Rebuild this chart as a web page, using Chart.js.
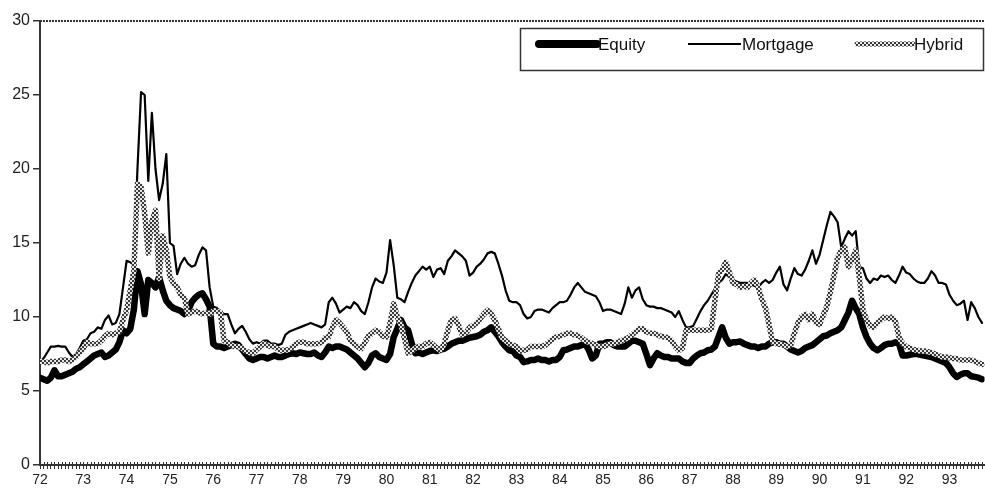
<!DOCTYPE html>
<html>
<head>
<meta charset="utf-8">
<script src="https://cdn.jsdelivr.net/npm/chart.js@4.4.1/dist/chart.umd.min.js"></script>
<style>
  html, body { margin: 0; padding: 0; background: #fff; }
  #chart { display: block; }
</style>
</head>
<body>
<canvas id="chart" width="985" height="489"></canvas>
<script>
// monthly observations, Jan 1972 .. Oct 1993
const startYear = 72;
const yTicks = [0, 5, 10, 15, 20, 25, 30];

const equity = [
  5.9, 5.8, 5.7, 5.9, 6.4, 6.0, 6.0, 6.1, 6.2, 6.3, 6.5, 6.6,
  6.8, 7.0, 7.2, 7.4, 7.5, 7.6, 7.3, 7.4, 7.6, 7.8, 8.3, 9.1,
  8.9, 9.2, 10.5, 13.1, 12.2, 10.2, 12.5, 12.3, 12.0, 12.7, 11.8, 11.1,
  10.8, 10.6, 10.5, 10.4, 10.2, 10.4, 11.0, 11.3, 11.5, 11.6, 11.2, 10.7,
  8.2, 8.0, 8.0, 7.9, 8.0, 8.1, 8.2, 8.1, 7.8, 7.5, 7.2, 7.1,
  7.2, 7.3, 7.3, 7.2, 7.3, 7.4, 7.3, 7.3, 7.4, 7.5, 7.55, 7.5,
  7.6, 7.55, 7.5, 7.5, 7.6, 7.4, 7.3, 7.6, 8.0, 7.9, 8.0, 8.0,
  7.9, 7.8, 7.6, 7.4, 7.2, 6.9, 6.6, 6.9, 7.4, 7.55, 7.3, 7.2,
  7.1, 7.5, 8.65, 9.2, 9.8, 9.3, 9.1, 8.2, 7.55, 7.6, 7.5, 7.6,
  7.7, 7.75, 7.7, 7.8, 7.85, 8.0, 8.2, 8.3, 8.4, 8.4, 8.5, 8.6,
  8.65, 8.7, 8.8, 9.0, 9.1, 9.3, 9.0, 8.7, 8.3, 8.0, 7.75, 7.7,
  7.4, 7.3, 6.95, 7.0, 7.1, 7.1, 7.2, 7.1, 7.1, 7.0, 7.1, 7.1,
  7.3, 7.75, 7.8, 7.9, 8.0, 8.0, 8.1, 8.2, 7.8, 7.2, 7.4, 8.2,
  8.2, 8.3, 8.3, 8.1, 8.0, 8.0, 8.0, 8.2, 8.4, 8.4, 8.3, 8.2,
  7.5, 6.75, 7.2, 7.55, 7.4, 7.3, 7.3, 7.2, 7.2, 7.2, 7.0, 6.9,
  6.9, 7.2, 7.4, 7.55, 7.6, 7.75, 7.8, 8.0, 8.65, 9.3, 8.6, 8.2,
  8.3, 8.3, 8.35, 8.2, 8.1, 8.0, 8.0, 7.9, 8.0, 8.0, 8.2, 8.3,
  8.3, 8.2, 8.2, 8.0, 7.8, 7.7, 7.6, 7.7, 7.9, 8.0, 8.1, 8.3,
  8.5, 8.7, 8.75, 8.9, 9.0, 9.1, 9.3, 9.8, 10.3, 11.1, 10.6, 10.2,
  9.3, 8.65, 8.2, 7.9, 7.75, 7.9, 8.1, 8.2, 8.2, 8.3, 8.2, 7.4,
  7.4, 7.45, 7.5, 7.5, 7.45, 7.4, 7.35, 7.3, 7.2, 7.1, 7.0, 6.9,
  6.6, 6.2, 5.95, 6.1, 6.2, 6.2, 6.0, 5.95, 5.9, 5.8
];

const mortgage = [
  7.0, 7.2, 7.6, 8.0, 8.0, 8.05, 8.0, 8.0, 7.6, 7.3, 7.5, 7.9,
  8.4, 8.5, 8.9, 9.0, 9.3, 9.2, 9.8, 10.1, 9.5, 9.6, 10.2, 12.0,
  13.8, 13.7, 13.5, 20.0, 25.2, 25.0, 19.2, 23.8, 20.0, 17.9, 19.0, 21.0,
  15.0, 14.8, 12.9, 13.6, 14.0, 13.6, 13.4, 13.5, 14.2, 14.7, 14.5, 12.0,
  10.7, 10.6, 10.4, 10.2, 10.2, 9.5, 8.9, 9.2, 9.4, 9.0, 8.5, 8.2,
  8.3, 8.2, 8.4, 8.4, 8.2, 8.2, 8.1, 8.2, 8.8, 9.0, 9.1, 9.2,
  9.3, 9.4, 9.5, 9.6, 9.5, 9.4, 9.3, 9.5, 11.0, 11.3, 10.9, 10.3,
  10.5, 10.7, 10.6, 11.0, 10.8, 10.4, 10.2, 11.0, 12.0, 12.6, 12.4, 12.3,
  13.0, 15.2, 13.5, 11.3, 11.2, 11.0, 11.7, 12.3, 12.8, 13.1, 13.4, 13.2,
  13.4, 12.7, 13.2, 13.3, 12.9, 13.8, 14.1, 14.5, 14.3, 14.1, 13.8, 12.8,
  13.0, 13.4, 13.6, 13.9, 14.3, 14.4, 14.3, 13.6, 12.8, 11.8, 11.1, 11.0,
  11.0, 10.8, 10.2, 9.9, 10.0, 10.4, 10.5, 10.5, 10.4, 10.3, 10.6, 10.8,
  11.0, 11.0, 11.1, 11.5, 12.0, 12.3, 12.0, 11.7, 11.6, 11.5, 11.4, 11.0,
  10.4, 10.5, 10.5, 10.4, 10.3, 10.2, 10.9, 12.0, 11.3, 11.8, 12.0, 11.2,
  10.8, 10.7, 10.7, 10.6, 10.6, 10.5, 10.4, 10.3, 10.0, 10.4, 9.8, 9.3,
  9.3, 9.4, 9.9, 10.4, 10.8, 11.1, 11.5, 11.9, 12.3, 12.5, 12.9, 12.7,
  12.5, 12.4, 12.3, 12.3, 12.3, 12.2, 12.1, 12.0, 12.3, 12.5, 12.3, 12.5,
  13.0, 13.4, 12.2, 11.8, 12.6, 13.3, 12.9, 12.8, 13.2, 13.8, 14.5, 13.6,
  14.2, 15.2, 16.2, 17.1, 16.8, 16.4, 14.7, 15.3, 15.8, 15.5, 15.8, 13.4,
  13.3, 12.6, 12.3, 12.6, 12.5, 12.8, 12.7, 12.8, 12.5, 12.3, 12.8, 13.4,
  13.0, 12.9, 12.6, 12.4, 12.3, 12.3, 12.6, 13.1, 12.8, 12.3, 12.3, 12.2,
  11.5, 11.1, 10.8, 10.9, 11.1, 9.8, 11.0, 10.6, 10.0, 9.6
];

const hybrid = [
  7.0, 7.0, 6.9, 7.0, 7.0, 7.0, 7.1, 7.1, 7.0, 7.1, 7.3, 7.6,
  7.9, 8.3, 8.2, 8.2, 8.2, 8.4, 8.7, 8.9, 8.8, 8.9, 9.0, 9.8,
  10.45, 11.8, 13.1, 19.0, 18.8, 17.0, 14.3, 16.5, 17.2, 12.6, 15.5, 14.5,
  12.7, 12.3, 12.0, 11.5, 11.3, 10.2, 10.3, 10.4, 10.3, 10.2, 10.3, 10.2,
  10.4, 10.4, 10.3, 8.4, 8.3, 8.1, 8.0, 8.0, 7.9, 7.7, 7.6, 7.55,
  7.8, 8.0, 8.2, 8.1, 8.0, 8.0, 7.8, 7.75, 7.75, 7.8, 8.0, 8.2,
  8.3, 8.3, 8.2, 8.2, 8.2, 8.2, 8.3, 8.6, 8.65, 9.3, 9.8, 9.6,
  9.3, 9.0, 8.4, 8.2, 8.0, 7.85, 8.3, 8.7, 8.9, 9.1, 9.0, 8.7,
  8.65, 9.6, 10.9, 10.0, 9.5, 8.5, 7.55, 7.7, 7.9, 8.0, 8.0, 8.2,
  8.3, 8.1, 7.9, 7.75, 8.2, 9.1, 9.8, 9.9, 9.4, 8.8, 8.9, 9.3,
  9.4, 9.6, 9.9, 10.2, 10.45, 10.2, 9.8, 9.2, 8.6, 8.4, 8.2, 8.1,
  8.0, 7.7, 7.75, 7.8, 8.0, 8.0, 8.0, 8.0, 8.1, 8.3, 8.5, 8.65,
  8.7, 8.8, 8.9, 8.9, 8.8, 8.75, 8.6, 8.4, 8.3, 8.2, 8.1, 8.0,
  8.0, 8.1, 8.2, 8.2, 8.3, 8.4, 8.5, 8.6, 8.8, 9.0, 9.2, 9.2,
  9.0, 8.9, 8.9, 8.8, 8.7, 8.65, 8.6, 8.4, 8.0, 7.75, 7.9, 9.1,
  9.1, 9.1, 9.1, 9.1, 9.1, 9.1, 9.2, 11.1, 12.9, 13.2, 13.7, 13.0,
  12.3, 12.2, 12.0, 12.1, 12.0, 12.3, 12.5, 12.0, 11.2, 10.6, 9.5, 8.3,
  8.2, 8.2, 8.1, 8.0, 8.1, 8.9, 9.6, 10.0, 10.2, 9.8, 10.2, 9.6,
  9.5, 10.1, 10.7, 11.7, 12.8, 14.0, 14.5, 14.7, 13.4, 13.9, 14.5, 12.7,
  10.5, 9.8, 9.4, 9.3, 9.6, 9.8, 10.0, 9.9, 10.0, 9.7, 8.65, 8.2,
  8.0, 7.9, 7.8, 7.75, 7.7, 7.7, 7.65, 7.6, 7.5, 7.4, 7.3, 7.3,
  7.25, 7.2, 7.2, 7.1, 7.1, 7.1, 7.1, 7.0, 6.9, 6.8
];

const months = equity.map((_, i) => i);
const toXY = arr => arr.map((v, i) => ({ x: months[i], y: v }));

// checkered texture for the hybrid line
function makePattern() {
  const c = document.createElement('canvas');
  c.width = 4; c.height = 4;
  const g = c.getContext('2d');
  g.fillStyle = '#e6e6e6';
  g.fillRect(0, 0, 4, 4);
  g.fillStyle = '#3a3a3a';
  g.fillRect(0, 0, 2, 2);
  g.fillRect(2, 2, 2, 2);
  return g.createPattern(c, 'repeat');
}
const hatch = makePattern();

const legendItems = [
  { label: 'Equity', width: 8, color: '#000', x0: 539, x1: 597 },
  { label: 'Mortgage', width: 2, color: '#000', x0: 688, x1: 741 },
  { label: 'Hybrid', width: 5, color: hatch, x0: 857, x1: 913 },
];

const boxLegend = {
  id: 'boxLegend',
  afterDraw(chart) {
    const ctx = chart.ctx;
    ctx.save();
    ctx.fillStyle = '#fff';
    ctx.fillRect(520.5, 28.5, 463, 42);
    ctx.strokeStyle = '#333';
    ctx.lineWidth = 1.5;
    ctx.strokeRect(520.5, 28.5, 463, 42);
    ctx.font = '17px "Liberation Sans", Arial, sans-serif';
    ctx.textBaseline = 'middle';
    ctx.fillStyle = '#111';
    legendItems.forEach(it => {
      ctx.beginPath();
      ctx.lineCap = it.width > 4 ? 'round' : 'butt';
      ctx.lineWidth = it.width;
      ctx.strokeStyle = it.color;
      ctx.moveTo(it.x0, 44);
      ctx.lineTo(it.x1, 44);
      ctx.stroke();
      ctx.fillText(it.label, it.x1 + 1, 45);
    });
    ctx.restore();
  }
};

// top frame line and the inner half of the month ticks on the x axis
const frame = {
  id: 'frame',
  afterDraw(chart) {
    const { ctx, chartArea, scales } = chart;
    ctx.save();
    ctx.strokeStyle = '#333';
    ctx.lineWidth = 2;
    ctx.setLineDash([2, 1]);
    ctx.beginPath();
    ctx.moveTo(chartArea.left, chartArea.top);
    ctx.lineTo(chartArea.right, chartArea.top);
    ctx.stroke();
    ctx.setLineDash([]);
    ctx.lineWidth = 1;
    ctx.beginPath();
    months.forEach(m => {
      const x = Math.round(scales.x.getPixelForValue(m)) + 0.5;
      ctx.moveTo(x, chartArea.bottom);
      ctx.lineTo(x, chartArea.bottom - 3);
    });
    ctx.stroke();
    ctx.restore();
  }
};

new Chart(document.getElementById('chart'), {
  type: 'line',
  data: {
    datasets: [
      { label: 'Equity', data: toXY(equity), borderColor: '#000', borderWidth: 6.5, order: 3 },
      { label: 'Mortgage', data: toXY(mortgage), borderColor: '#000', borderWidth: 2.2, order: 2 },
      { label: 'Hybrid', data: toXY(hybrid), borderColor: hatch, borderWidth: 5.5, order: 1 },
    ],
  },
  options: {
    responsive: false,
    animation: false,
    events: [],
    layout: { padding: { top: 21, right: 0, left: 0, bottom: 0 } },
    elements: {
      point: { radius: 0 },
      line: { tension: 0, borderJoinStyle: 'round', borderCapStyle: 'round' },
    },
    scales: {
      x: {
        type: 'linear',
        min: 0,
        max: 261.7,
        afterBuildTicks: s => { s.ticks = months.map(m => ({ value: m })); },
        afterFit: s => { s.height = 24; },
        ticks: {
          autoSkip: false,
          maxRotation: 0,
          padding: 3,
          color: '#222',
          font: { size: 14, family: '"Liberation Sans", Arial, sans-serif' },
          callback: v => (v % 12 === 0 ? String(startYear + v / 12) : ''),
        },
        grid: { drawOnChartArea: false, tickLength: 4, color: '#333', lineWidth: 1 },
        border: { color: '#333', width: 2 },
      },
      y: {
        min: 0,
        max: 30,
        afterBuildTicks: s => { s.ticks = yTicks.map(v => ({ value: v })); },
        afterFit: s => { s.width = 40; },
        ticks: {
          padding: 3,
          color: '#222',
          font: { size: 16, family: '"Liberation Sans", Arial, sans-serif' },
        },
        grid: { drawOnChartArea: false, tickLength: 7, color: '#333', lineWidth: 1.5 },
        border: { color: '#333', width: 2, dash: [2, 1] },
      },
    },
    plugins: {
      legend: { display: false },
      tooltip: { enabled: false },
    },
  },
  plugins: [frame, boxLegend],
});
</script>
</body>
</html>
